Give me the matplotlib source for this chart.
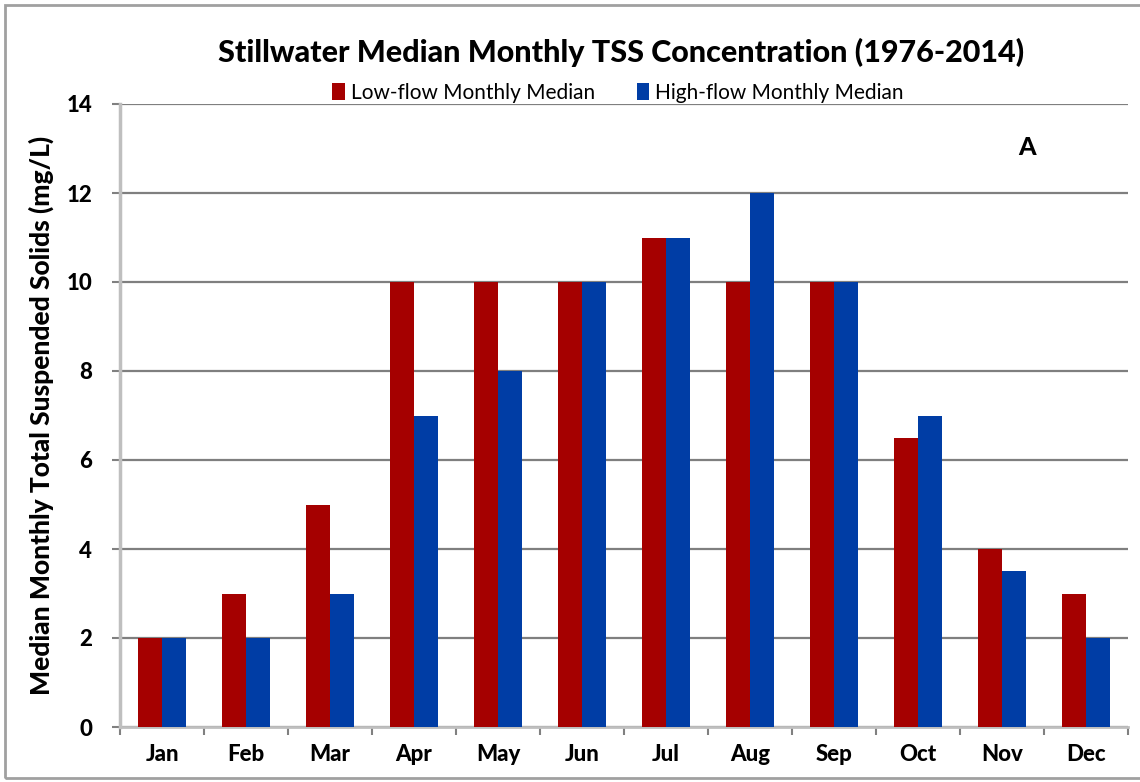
import numpy as np
import matplotlib.pyplot as plt
from matplotlib.patches import Rectangle

months = ["Jan", "Feb", "Mar", "Apr", "May", "Jun", "Jul", "Aug", "Sep", "Oct", "Nov", "Dec"]
low_flow = [2, 3, 5, 10, 10, 10, 11, 10, 10, 6.5, 4, 3]
high_flow = [2, 2, 3, 7, 8, 10, 11, 12, 10, 7, 3.5, 2]

plt.rcParams["font.family"] = ["Lato", "DejaVu Sans"]
heavy = "black"

fig = plt.figure(figsize=(11.4, 7.82), dpi=100)
ax = fig.add_axes([120 / 1140, 1 - 727 / 782, 1008 / 1140, 623 / 782])

x = np.arange(len(months))
w = 0.29
ax.bar(x - w / 2, low_flow, w, color="#A50000", label="Low-flow Monthly Median", zorder=3)
ax.bar(x + w / 2, high_flow, w, color="#003DA5", label="High-flow Monthly Median", zorder=3)

ax.set_xlim(-0.5, len(months) - 0.5)
ax.set_ylim(0, 14)
ax.set_yticks(range(0, 15, 2))
ax.set_yticklabels([str(v) for v in range(0, 15, 2)], fontsize=16, fontweight=heavy)
ax.set_xticks(x)
ax.set_xticklabels(months, fontsize=16, fontweight=heavy)
ax.set_xticks(np.arange(-0.5, len(months), 1), minor=True)
ax.tick_params(axis="x", which="major", length=0, pad=12)
ax.tick_params(axis="x", which="minor", length=6, width=1.5, color="#808080")
ax.tick_params(axis="y", length=6, width=1.5, color="#808080", pad=14)

ax.grid(axis="y", color="#7F7F7F", linewidth=1.6, zorder=0)
for s in ["top", "right"]:
    ax.spines[s].set_visible(False)
ax.spines["left"].set_color("#BFBFBF")
ax.spines["left"].set_linewidth(2.5)
ax.spines["bottom"].set_color("#BFBFBF")
ax.spines["bottom"].set_linewidth(2)

ax.set_ylabel("Median Monthly Total Suspended Solids (mg/L)", fontsize=19, fontweight=heavy, labelpad=9)
fig.text(0.545, 1 - 52 / 782, "Stillwater Median Monthly TSS Concentration (1976-2014)",
         ha="center", va="center", fontsize=22, fontweight=heavy)
ax.text(0.9, 0.93, "A", transform=ax.transAxes, fontsize=18, fontweight=heavy, ha="center", va="center")

ax.legend(loc="center", bbox_to_anchor=(0.494, 1 + 11 / 623), ncol=2, frameon=False,
          fontsize=15, handlelength=0.6, handleheight=0.9, handletextpad=0.3, columnspacing=2.0,
          borderaxespad=0)

fig.patches.append(Rectangle((5 / 1140, 4 / 782), 1.0, 1 - 9 / 782, transform=fig.transFigure,
                             fill=False, edgecolor="#A0A0A0", linewidth=2))

fig.savefig("out.png", dpi=100)
